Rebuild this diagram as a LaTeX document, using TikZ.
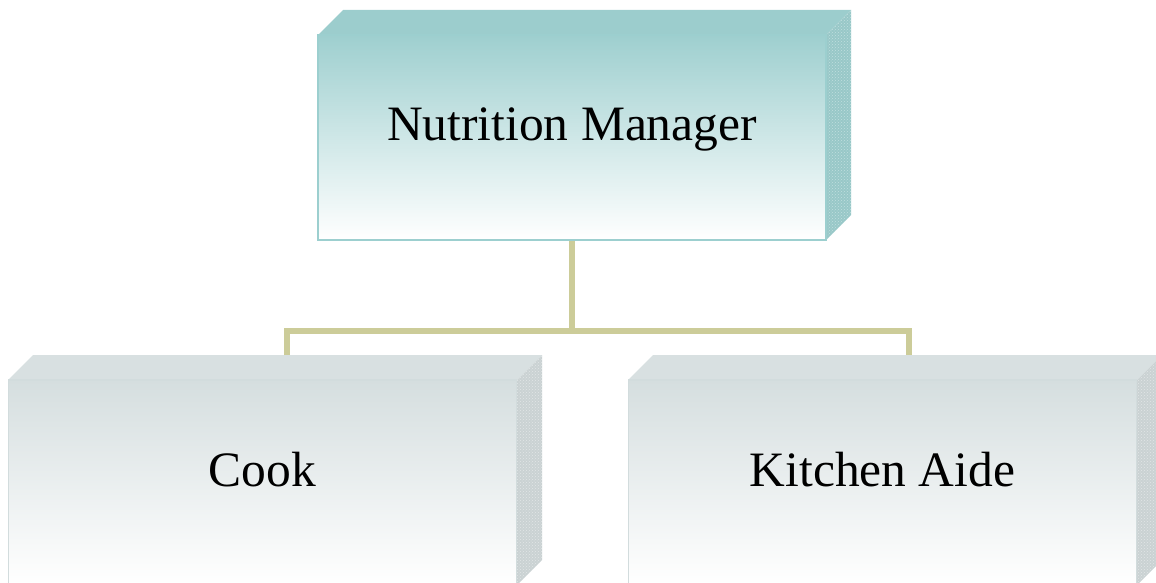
\documentclass[tikz,border=0pt]{standalone}
\usepackage{fontspec}
\setmainfont{Liberation Serif}
\usetikzlibrary{patterns}
\definecolor{tealtop}{HTML}{9ECFCF}
\definecolor{tealface}{HTML}{9CCDCD}
\definecolor{tealside}{HTML}{98C8C8}
\definecolor{tealborder}{HTML}{9CCFCF}
\definecolor{graytop}{HTML}{D5DEDF}
\definecolor{grayface}{HTML}{D8E0E1}
\definecolor{grayside}{HTML}{CAD2D3}
\definecolor{grayborder}{HTML}{D2DCDD}
\definecolor{connc}{HTML}{CCCC99}
\tikzset{
  frontbox/.style={rectangle, minimum width=508pt, minimum height=205pt, inner sep=0pt, line width=1.5pt},
  tealbox/.style={frontbox, draw=tealborder, top color=tealtop, middle color=tealtop!40!white, bottom color=white},
  graybox/.style={frontbox, draw=grayborder, top color=graytop, middle color=graytop!45!white, bottom color=white},
  lbl/.style={font=\fontsize{49.5}{59}\selectfont, anchor=base, inner sep=0pt},
  conn/.style={draw=connc, line width=5.5pt, line join=miter},
  sidedots/.style={pattern=crosshatch dots, pattern color=#1}
}
\begin{document}
\begin{tikzpicture}[x=1pt,y=-1pt]
\useasboundingbox (0,0) rectangle (1156,583);
\clip (0,0) rectangle (1156,583);

% ---- top box (Nutrition Manager)
\fill[tealface] (318,35) -- (343,10) -- (851,10) -- (826,35) -- cycle;
\fill[tealside] (826,35) -- (851,10) -- (851,215) -- (826,240) -- cycle;
\fill[sidedots=tealside!60!white] (826,35) -- (851,10) -- (851,215) -- (826,240) -- cycle;
\node[tealbox] (mgr) at (572,137.5) {};
\node[lbl] (mgrlbl) at (572,141) {Nutrition Manager};

% ---- bottom left box (Cook)
\fill[grayface] (8,380) -- (33,355) -- (542,355) -- (517,380) -- cycle;
\fill[grayside] (517,380) -- (542,355) -- (542,560) -- (517,585) -- cycle;
\fill[sidedots=grayside!55!white] (517,380) -- (542,355) -- (542,560) -- (517,585) -- cycle;
\node[graybox] (cook) at (262.5,482.5) {};
\node[lbl] (cooklbl) at (262.5,486) {Cook};

% ---- bottom right box (Kitchen Aide)
\fill[grayface] (628,380) -- (653,355) -- (1162,355) -- (1137,380) -- cycle;
\fill[grayside] (1137,380) -- (1162,355) -- (1162,560) -- (1137,585) -- cycle;
\fill[sidedots=grayside!55!white] (1137,380) -- (1162,355) -- (1162,560) -- (1137,585) -- cycle;
\node[graybox] (aide) at (882.5,482.5) {};
\node[lbl] (aidelbl) at (882.5,486) {Kitchen Aide};

% ---- connectors
\coordinate (junc) at (572,331);
\coordinate (cooktop) at (287,355);
\coordinate (aidetop) at (909,355);
\draw[conn] (mgr.south) -- (junc);
\draw[conn] (cooktop) |- (junc) -| (aidetop);
\end{tikzpicture}
\end{document}
